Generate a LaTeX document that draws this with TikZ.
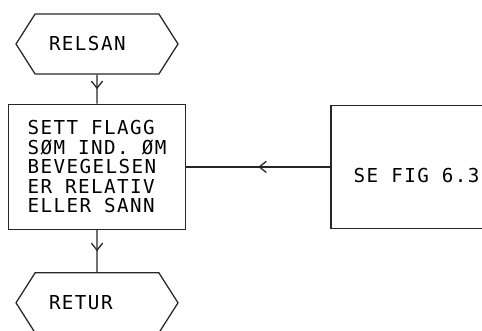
\documentclass[tikz,border=0pt]{standalone}
\usepackage{fontspec}
\newfontfamily\plotfont[LetterSpace=7.5]{DejaVu Sans Mono}
\usetikzlibrary{arrows.meta, positioning, shapes.symbols, decorations.markings}

\begin{document}
\begin{tikzpicture}[
    terminal/.style={signal, signal to=east and west, signal pointer angle=115, draw=black!85, line width=0.9pt, minimum width=4.05cm, minimum height=1.5cm, inner sep=0pt, text width=2.4cm, align=left, font=\plotfont\fontsize{13.66}{13.9}\selectfont},
    process/.style={rectangle, draw=black!85, line width=1.1pt, minimum width=4.425cm, minimum height=3.125cm, align=left, font=\plotfont\fontsize{13.66}{13.9}\selectfont},
    refbox/.style={rectangle, draw=black!85, line width=1.1pt, minimum width=4.275cm, minimum height=3.075cm, inner sep=0pt, text height=0.8cm, font=\plotfont\fontsize{13.66}{13.9}\selectfont},
    flow/.style={draw=black!85, line width=0.9pt, decoration={markings, mark=at position 0.5 with {\arrow{Straight Barb[length=5pt, width=8pt]}}}, postaction={decorate}}
]

\useasboundingbox (0, 0) rectangle (12.05, 8.25);

% Entry
\node[terminal] (relsan) at (2.425, 7.15) {RELSAN};

% Set flag
\node[process, below=0.725cm of relsan] (flagg) {SETT FLAGG\\SØM IND. ØM\\BEVEGELSEN\\ER RELATIV\\ELLER SANN};

% Reference to fig 6.3
\node[refbox, right=3.6cm of flagg] (fig) {SE FIG 6.3};

% Return
\node[terminal, below=1.05cm of flagg] (retur) {RETUR};

% Connectors
\draw[flow] (relsan) -- (flagg);
\draw[flow] (flagg) -- (retur);
\draw[flow] (fig.west) -- (fig.west -| flagg.east);

\end{tikzpicture}
\end{document}
